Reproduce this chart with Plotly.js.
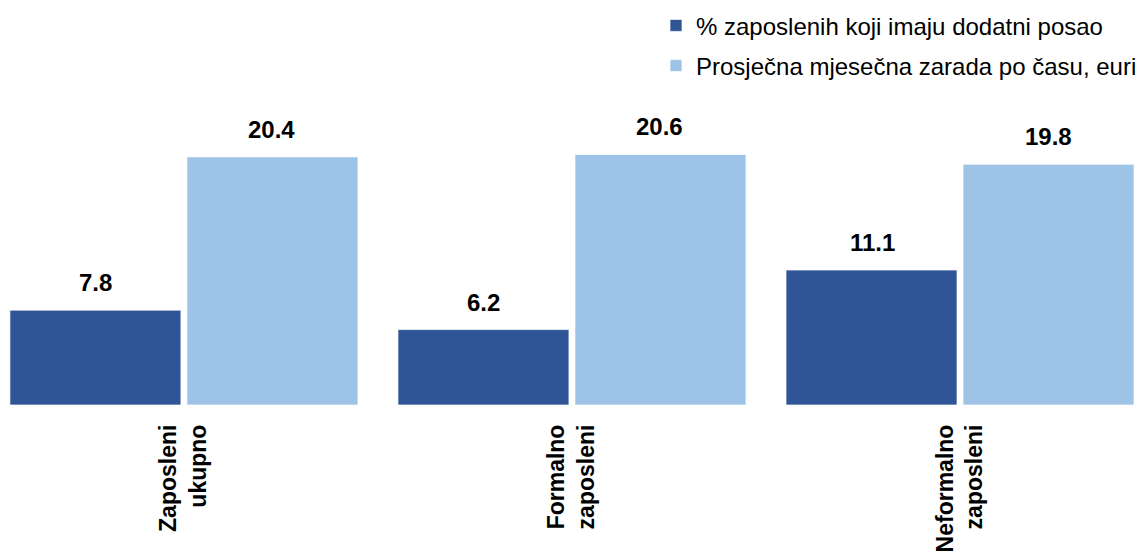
<!DOCTYPE html>
<html>
<head>
<meta charset="utf-8">
<script src="https://cdn.plot.ly/plotly-3.0.1.min.js"></script>
<style>html,body{margin:0;padding:0;background:#fff;}#chart{width:1142px;height:553px;}</style>
</head>
<body>
<div id="chart"></div>
<script>
var categories = ["Zaposleni<br>ukupno", "Formalno<br>zaposleni", "Neformalno<br>zaposleni"];
var seriesNames = ["% zaposlenih koji imaju dodatni posao", "Prosječna mjesečna zarada po času, euri"];
var shareWithSecondJob = [7.8, 6.2, 11.1];
var avgHourlyEarnings = [20.4, 20.6, 19.8];

var colors = ["#2F5597", "#9DC3E6"];
var font = "Liberation Sans, Arial, sans-serif";
var series = [shareWithSecondJob, avgHourlyEarnings];

var traces = series.map(function (vals, i) {
  return {
    type: "bar",
    name: seriesNames[i],
    x: categories,
    y: vals,
    legendgroup: "g" + i,
    marker: { color: colors[i], line: { color: "rgba(255,255,255,0.7)", width: 1 } },
    hoverinfo: "skip"
  };
});

var annotations = [];
series.forEach(function (vals, i) {
  vals.forEach(function (v, j) {
    annotations.push({
      x: categories[j], y: v, xref: "x", yref: "y",
      text: "<b>" + v.toFixed(1) + "</b>",
      showarrow: false, yanchor: "bottom",
      xshift: (i === 0 ? -1 : 1) * 88, yshift: 12,
      font: { family: font, size: 24, color: "#000" }
    });
  });
});

var layout = {
  width: 1142, height: 553,
  margin: { l: 0, r: 0, t: 90, b: 148 },
  paper_bgcolor: "#fff", plot_bgcolor: "#fff",
  font: { family: font, size: 24, color: "#000" },
  barmode: "group",
  bargap: 0.0876,
  bargroupgap: 0.034,
  showlegend: true,
  legend: {
    orientation: "v",
    x: 0.585, xanchor: "left",
    y: 0.994, yref: "container", yanchor: "top",
    traceorder: "grouped",
    tracegroupgap: 6,
    font: { family: font, size: 24, color: "#000" },
    bgcolor: "rgba(0,0,0,0)"
  },
  xaxis: {
    type: "category",
    range: [-0.474, 2.469],
    tickangle: -90,
    ticklabelstandoff: 14,
    showgrid: false, zeroline: false, showline: false,
    ticks: "",
    tickfont: { family: font, size: 23, color: "#000", weight: "bold" }
  },
  yaxis: {
    range: [0, 25.9],
    visible: false,
    showgrid: false, zeroline: false
  },
  annotations: annotations
};

Plotly.newPlot("chart", traces, layout, { displayModeBar: false, staticPlot: true });
</script>
</body>
</html>
